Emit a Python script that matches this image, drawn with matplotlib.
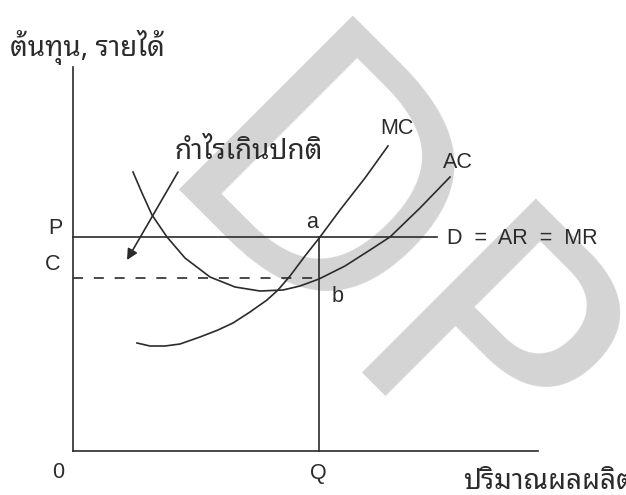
import matplotlib
matplotlib.use("Agg")
import matplotlib.pyplot as plt

# ---- data (units: chart coordinates, origin at the axes corner) ----
mc_x = [64, 77, 92, 107, 127, 145, 160, 177, 194, 205, 217, 232, 247, 267, 292, 315]
mc_y = [108, 105, 105, 107, 114, 121, 128, 139, 151, 161, 175, 195, 214, 241, 273, 305]

ac_x = [60, 69, 79, 94, 112, 137, 162, 187, 210, 227, 246, 272, 297, 317, 347, 377]
ac_y = [279, 258, 236, 214, 193, 174, 164, 160, 161, 165, 172, 185, 201, 214, 243, 274]

price_P = 214
cost_C = 173
qty_Q = 246
x_max = 465
y_max = 384
price_line_end = 364

arrow_start = (105, 279)
arrow_end = (54, 191)

thai_fonts = ["Noto Sans Thai Looped", "DejaVu Sans"]
latin_fonts = ["Liberation Sans", "DejaVu Sans"]
ink = "#2b2b2b"

fig = plt.figure(figsize=(6.26, 4.95), dpi=100)
ax = fig.add_axes([0, 0, 1, 1])
ax.set_xlim(-73, 553)
ax.set_ylim(-44, 451)
ax.axis("off")

# watermark
ax.text(72, 262, "DP", fontsize=243, family="DejaVu Sans", color="#d4d4d4",
        rotation=-45, rotation_mode="anchor", ha="left", va="baseline", zorder=0,
        clip_on=True)

lw = 1.2
# axes
ax.plot([0, 0], [0, y_max], color=ink, lw=lw, zorder=3)
ax.plot([0, x_max], [0, 0], color=ink, lw=lw, zorder=3)
# price line D = AR = MR
ax.plot([0, price_line_end], [price_P, price_P], color=ink, lw=lw, zorder=3)
# cost dashed line
ax.plot([0, qty_Q], [cost_C, cost_C], color=ink, lw=lw, ls=(0, (6, 6.5)), zorder=3)
# Q vertical
ax.plot([qty_Q, qty_Q], [0, price_P], color=ink, lw=lw, zorder=3)
# curves
ax.plot(mc_x, mc_y, color=ink, lw=lw, zorder=3)
ax.plot(ac_x, ac_y, color=ink, lw=lw, zorder=3)
# arrow
ax.annotate("", xy=arrow_end, xytext=arrow_start,
            arrowprops=dict(arrowstyle="-|>", color=ink, lw=lw, mutation_scale=16,
                            shrinkA=0, shrinkB=0), zorder=3)

# texts
fs = 15.5
ax.text(-63, 404, "ต้นทุน, รายได้", family=thai_fonts, fontsize=20, color=ink,
        ha="left", va="center")
ax.text(102, 299, "กำไรเกินปกติ", family=thai_fonts, fontsize=20, color=ink,
        ha="left", va="center")
ax.text(390, -31, "ปริมาณผลผลิต", family=thai_fonts, fontsize=20, color=ink,
        ha="left", va="center")
ax.text(324, 323, "MC", family=latin_fonts, fontsize=fs, color=ink, ha="center", va="center")
ax.text(385, 289, "AC", family=latin_fonts, fontsize=fs, color=ink, ha="center", va="center")
ax.text(239, 229, "a", family=latin_fonts, fontsize=fs, color=ink, ha="center", va="center")
ax.text(265, 155, "b", family=latin_fonts, fontsize=fs, color=ink, ha="center", va="center")
ax.text(-18, 223, "P", family=latin_fonts, fontsize=fs, color=ink, ha="center", va="center")
ax.text(-20, 186, "C", family=latin_fonts, fontsize=fs, color=ink, ha="center", va="center")
ax.text(374, 213, "D  =  AR  =  MR", family=latin_fonts, fontsize=fs, color=ink,
        ha="left", va="center")
ax.text(-15, -21, "0", family=latin_fonts, fontsize=fs, color=ink, ha="center", va="center")
ax.text(245, -23, "Q", family=latin_fonts, fontsize=fs, color=ink, ha="center", va="center")

fig.savefig("out.png", dpi=100)
